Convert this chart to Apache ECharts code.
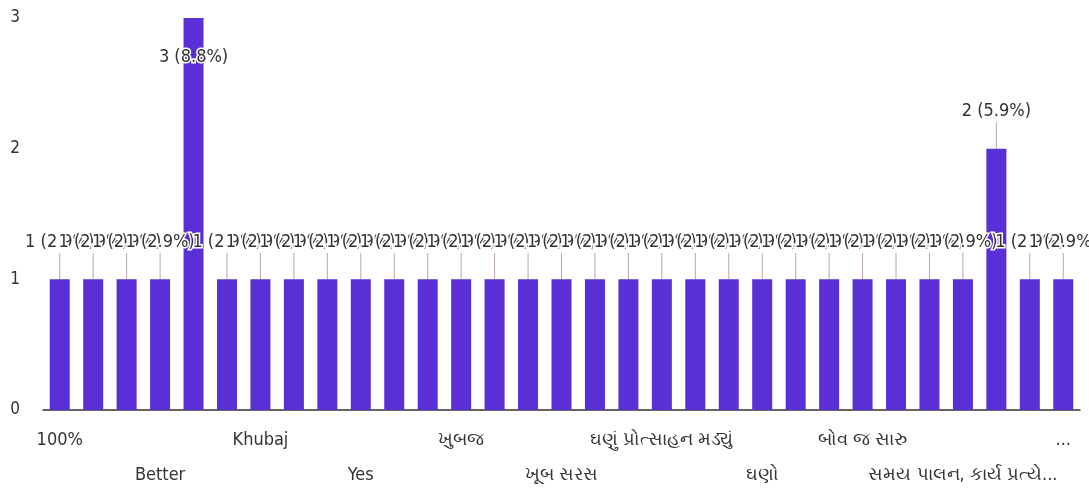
<!DOCTYPE html>
<html>
<head>
<meta charset="utf-8">
<script src="https://cdn.jsdelivr.net/npm/echarts@6/dist/echarts.min.js"></script>
<style>
html,body{margin:0;padding:0;background:#fff;}
#chart{width:1089px;height:498px;}
</style>
</head>
<body>
<div id="chart"></div>
<script>
const categories = [
  "100%", "Awesome", "Bahu saru", "Better", "Excellent", "Good",
  "Khubaj", "Nice", "Very good", "Yes", "khub saras", "ખુબ સારું",
  "ખુબજ", "ખુબજ સરસ", "ખૂબ સારુ", "ખૂબ સરસ", "ઘણું", "ઘણું સારું",
  "ઘણું પ્રોત્સાહન મડ્યું", "ઘણું શીખવા મળ્યું", "ઘણો આનંદ", "ઘણો", "બહુ સરસ", "બોવ જ",
  "બોવ જ સારુ", "સમય", "સમયસર", "સમય પાલન, કાર્ય પ્રત્યે...", "સરસ", "સારું", "..."
];
const counts = [
  1, 1, 1, 1, 3, 1,
  1, 1, 1, 1, 1, 1,
  1, 1, 1, 1, 1, 1,
  1, 1, 1, 1, 1, 1,
  1, 1, 1, 1, 2, 1, 1
];
const yTicks = [0, 1, 2, 3];

const total = counts.reduce((a, b) => a + b, 0);
const maxCount = Math.max(...counts);
const FONT = "'DejaVu Sans Condensed', 'Liberation Sans', Arial, sans-serif";
const chart = echarts.init(document.getElementById('chart'));

const data = counts.map((v) => {
  const item = { value: v };
  if (v === maxCount) {
    item.label = { position: 'insideTop', distance: 30 };
    item.labelLine = { show: false };
  }
  return item;
});

const labelBase = { color: '#333', fontSize: 18, fontFamily: FONT, hideOverlap: false };

chart.setOption({
  animation: false,
  grid: { left: 43, right: 9, top: 18, bottom: 88, containLabel: false },
  xAxis: [{
    type: 'category',
    data: categories,
    axisLine: { show: true, lineStyle: { color: '#333', width: 1.5 } },
    axisTick: { show: false },
    axisLabel: Object.assign({ interval: (i) => i % 6 === 0, margin: 21 }, labelBase)
  }, {
    type: 'category',
    position: 'bottom',
    data: categories,
    axisLine: { show: false },
    axisTick: { show: false },
    axisLabel: Object.assign({ interval: (i) => i % 6 === 3, margin: 56 }, labelBase)
  }],
  yAxis: {
    type: 'value',
    min: yTicks[0],
    max: yTicks[yTicks.length - 1],
    interval: 1,
    splitLine: { show: false },
    axisLine: { show: false },
    axisTick: { show: false },
    axisLabel: { color: '#333', fontSize: 17, fontFamily: FONT, margin: 23 }
  },
  series: [{
    type: 'bar',
    xAxisIndex: 0,
    data: data,
    barWidth: 20,
    itemStyle: { color: '#5a2fd6' },
    label: {
      show: true,
      position: 'top',
      distance: 5,
      color: '#333',
      fontSize: 18,
      fontFamily: FONT,
      textBorderColor: '#fff',
      textBorderWidth: 3,
      formatter: p => p.value + ' (' + (p.value / total * 100).toFixed(1) + '%)'
    },
    labelLine: { show: true, lineStyle: { color: '#b9a7ad', width: 1 } },
    labelLayout: p => (counts[p.dataIndex] === maxCount ? {} : { dy: -23 })
  }]
});
</script>
</body>
</html>
